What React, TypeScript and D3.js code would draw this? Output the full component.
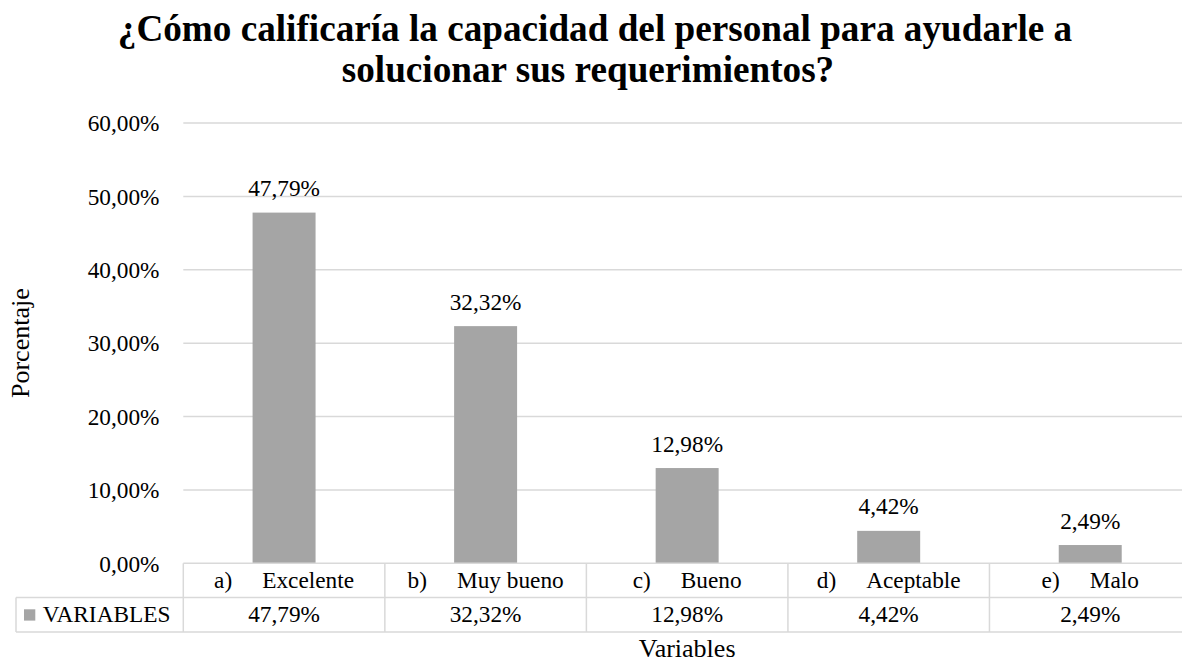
import React from 'react'
import * as d3 from 'd3'

// chart data
const categories = ['a)', 'b)', 'c)', 'd)', 'e)']
const categoryNames = ['Excelente', 'Muy bueno', 'Bueno', 'Aceptable', 'Malo']
const values = [47.79, 32.32, 12.98, 4.42, 2.49]
const yTicks = [0, 10, 20, 30, 40, 50, 60]
const seriesName = 'VARIABLES'
const titleLines = [
  '¿Cómo calificaría la capacidad del personal para ayudarle a',
  'solucionar sus requerimientos?',
]

const W = 1182
const H = 664
const FONT = "'Liberation Serif', 'DejaVu Serif', serif"
const BAR = '#a5a5a5'
const GRID = '#d9d9d9'

const fmt = (v: number) => v.toFixed(2).replace('.', ',') + '%'

const App = () => {
  const plotLeft = 183.3
  const plotRight = 1191
  const plotTop = 123
  const plotBottom = 563.3
  const row1Bottom = 597.5
  const row2Bottom = 632
  const legendLeft = 16

  const y = d3.scaleLinear().domain([0, 60]).range([plotBottom, plotTop])
  const x = d3
    .scaleBand<string>()
    .domain(categories)
    .range([plotLeft, plotRight])
    .paddingInner(0.6875)
    .paddingOuter(0.34375)
  // cells of the data table under the axis
  const cell = d3.scaleBand<string>().domain(categories).range([plotLeft, plotRight])

  return (
    <svg
      width={W}
      height={H}
      style={{ position: 'absolute', left: 0, top: 0, background: '#fff', fontFamily: FONT }}
    >
      <rect x={0} y={0} width={W} height={H} fill="#fff" />
      {/* title */}
      <text x={595} y={41} textAnchor="middle" fontSize={37.2} fontWeight="bold" fill="#000">
        {titleLines[0]}
      </text>
      <text x={588} y={82} textAnchor="middle" fontSize={37.2} fontWeight="bold" fill="#000">
        {titleLines[1]}
      </text>

      {/* gridlines and y ticks */}
      {yTicks.map((t) => (
        <g key={t}>
          {t > 0 && (
            <line x1={plotLeft} x2={plotRight} y1={y(t)} y2={y(t)} stroke={GRID} strokeWidth={1.5} />
          )}
          <text x={159.5} y={y(t) + 8.3} textAnchor="end" fontSize={23.3} fill="#000">
            {fmt(t)}
          </text>
        </g>
      ))}

      {/* bars */}
      {categories.map((c, i) => (
        <g key={c}>
          <rect
            x={x(c)}
            y={y(values[i])}
            width={x.bandwidth()}
            height={y(0) - y(values[i])}
            fill={BAR}
          />
          <text
            x={(x(c) as number) + x.bandwidth() / 2}
            y={y(values[i]) - 16.5}
            textAnchor="middle"
            fontSize={23.3}
            fill="#000"
          >
            {fmt(values[i])}
          </text>
        </g>
      ))}

      {/* data table */}
      <g stroke={GRID} strokeWidth={1.5}>
        <line x1={plotLeft} x2={plotRight} y1={plotBottom} y2={plotBottom} />
        <line x1={legendLeft} x2={plotRight} y1={row1Bottom} y2={row1Bottom} />
        <line x1={legendLeft} x2={plotRight} y1={row2Bottom} y2={row2Bottom} />
        <line x1={legendLeft} x2={legendLeft} y1={row1Bottom} y2={row2Bottom} />
        {categories.map((c) => (
          <line key={c} x1={cell(c)} x2={cell(c)} y1={plotBottom} y2={row2Bottom} />
        ))}
        <line x1={plotRight} x2={plotRight} y1={plotBottom} y2={row2Bottom} />
      </g>
      {categories.map((c, i) => {
        const cx = (cell(c) as number) + cell.bandwidth() / 2
        return (
          <g key={c} fontSize={23.3} fill="#000">
            <text x={cx} y={588} textAnchor="middle">
              <tspan>{c}</tspan>
              <tspan dx={30}>{categoryNames[i]}</tspan>
            </text>
            <text x={cx} y={621.7} textAnchor="middle">
              {fmt(values[i])}
            </text>
          </g>
        )
      })}
      <rect x={24} y={609.3} width={11.3} height={11.3} fill={BAR} />
      <text x={42.7} y={621.7} fontSize={23.3} fill="#000">
        {seriesName}
      </text>

      {/* axis titles */}
      <text
        transform={`translate(29, ${(plotTop + plotBottom) / 2}) rotate(-90)`}
        textAnchor="middle"
        fontSize={26}
        fill="#000"
      >
        Porcentaje
      </text>
      <text x={(plotLeft + plotRight) / 2} y={657} textAnchor="middle" fontSize={26} fill="#000">
        Variables
      </text>
    </svg>
  )
}

export default App
